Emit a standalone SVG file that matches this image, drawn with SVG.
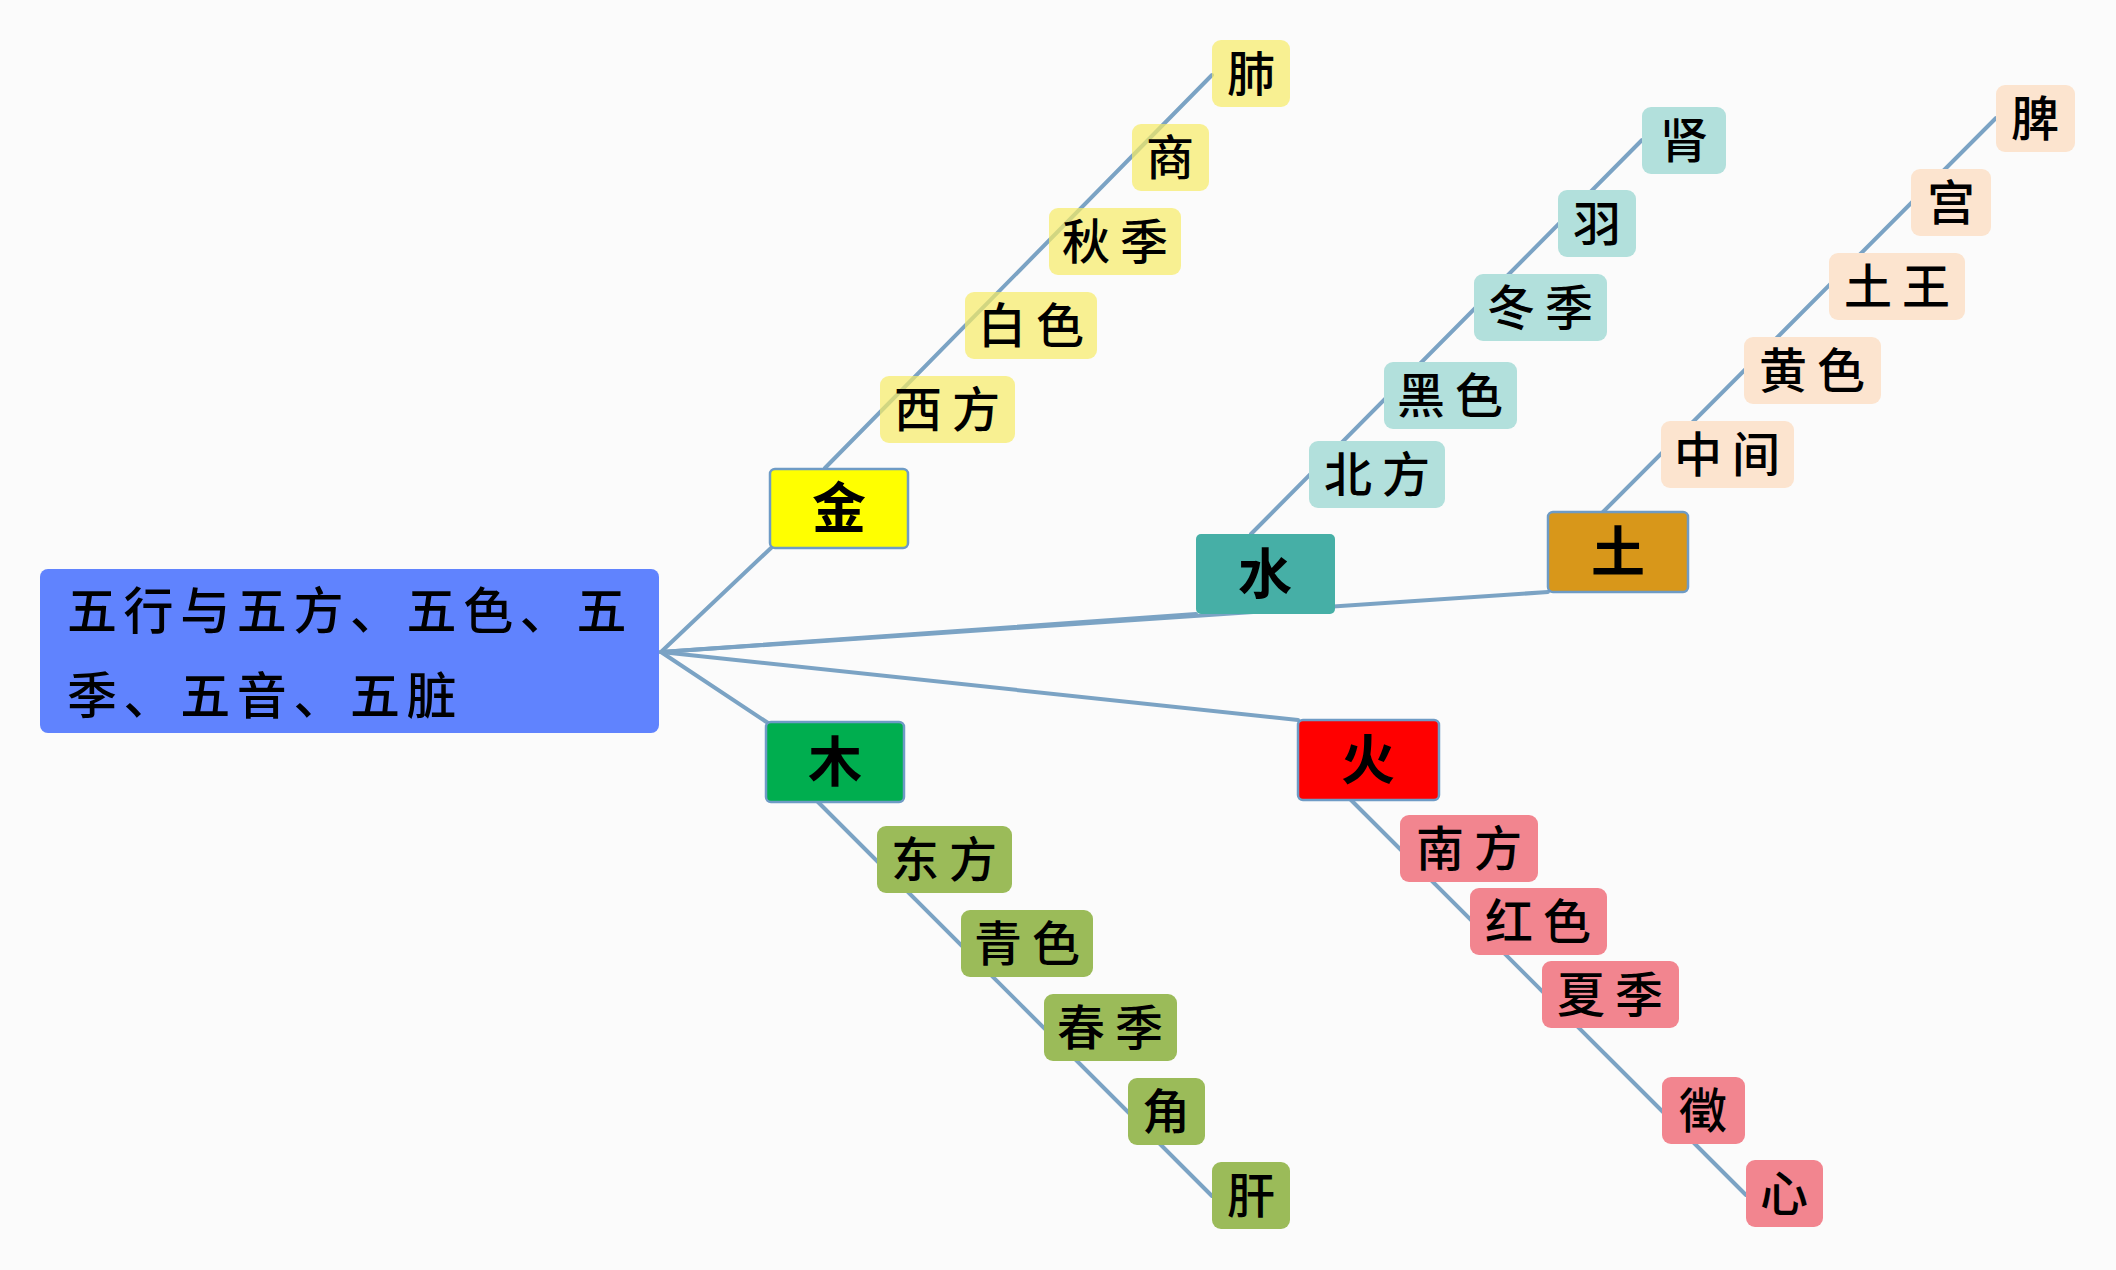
<svg xmlns="http://www.w3.org/2000/svg" width="2116" height="1270" viewBox="0 0 2116 1270">
<style>
.c{stroke:#7BA3C4;stroke-width:4;fill:none;stroke-linecap:round}
text{font-family:"Noto Sans CJK SC","Noto Sans",sans-serif;fill:#000}
.root text{font-size:50px;font-weight:500;letter-spacing:6.6px}
.main text{font-size:54px;font-weight:700;text-anchor:middle}
.mb{stroke:#6E9BC5;stroke-width:2.5}
.leaf text{font-size:48px;font-weight:500;text-anchor:middle}
.leaf text.two{letter-spacing:10px}
.gold rect{fill:#F7EB65;fill-opacity:0.7}
.water rect{fill:#B2E0DC}
.earth rect{fill:#FCE4CF}
.wood rect{fill:#9BBB59}
.fire rect{fill:#F2858F}
</style>
<rect x="0" y="0" width="2116" height="1270" fill="#FBFBFB"/>
<g id="connectors">
<line class="c" x1="661" y1="652" x2="771" y2="548"/>
<line class="c" x1="661" y1="652" x2="768" y2="723"/>
<line class="c" x1="661" y1="652" x2="1196" y2="614"/>
<line class="c" x1="661" y1="652" x2="1548" y2="592"/>
<line class="c" x1="661" y1="652" x2="1298" y2="720"/>
<line class="c" x1="825" y1="468" x2="1212" y2="75"/>
<line class="c" x1="1251" y1="534" x2="1642" y2="140"/>
<line class="c" x1="1603" y1="512" x2="1996" y2="118"/>
<line class="c" x1="818" y1="802" x2="1212" y2="1196"/>
<line class="c" x1="1351" y1="800" x2="1746" y2="1195"/>
</g>
<g id="root" class="root">
<rect x="40" y="569" width="619" height="164" rx="8" fill="#6083FE"/>
<text x="67" y="629">五行与五方、五色、五</text>
<text x="67" y="714">季、五音、五脏</text>
</g>
<g id="n-jin" class="main"><rect class="mb" x="770" y="469" width="138" height="79" rx="5" fill="#FFFF00"/><text x="839" y="528">金</text></g>
<g id="n-shui" class="main"><rect x="1196" y="534" width="139" height="80" rx="5" fill="#46AFA6"/><text x="1265" y="594">水</text></g>
<g id="n-tu" class="main"><rect class="mb" x="1548" y="512" width="140" height="80" rx="5" fill="#D8971A"/><text x="1618" y="572">土</text></g>
<g id="n-mu" class="main"><rect class="mb" x="766" y="722" width="138" height="80" rx="5" fill="#00AE4F"/><text x="835" y="782">木</text></g>
<g id="n-huo" class="main"><rect class="mb" x="1298" y="720" width="141" height="80" rx="5" fill="#FF0000"/><text x="1368" y="780">火</text></g>

<g id="jin-fei" class="leaf gold"><rect x="1212" y="40" width="78" height="67" rx="9"/><text x="1251" y="91">肺</text></g>
<g id="jin-shang" class="leaf gold"><rect x="1132" y="124" width="77" height="67" rx="9"/><text x="1170" y="175">商</text></g>
<g id="jin-qiuji" class="leaf gold"><rect x="1049" y="208" width="132" height="67" rx="9"/><text class="two" x="1120" y="259">秋季</text></g>
<g id="jin-baise" class="leaf gold"><rect x="965" y="292" width="132" height="67" rx="9"/><text class="two" x="1036" y="343">白色</text></g>
<g id="jin-xifang" class="leaf gold"><rect x="880" y="376" width="135" height="67" rx="9"/><text class="two" x="952" y="427">西方</text></g>

<g id="shui-shen" class="leaf water"><rect x="1642" y="107" width="84" height="67" rx="9"/><text x="1684" y="158">肾</text></g>
<g id="shui-yu" class="leaf water"><rect x="1558" y="190" width="78" height="67" rx="9"/><text x="1597" y="241">羽</text></g>
<g id="shui-dongji" class="leaf water"><rect x="1474" y="274" width="133" height="67" rx="9"/><text class="two" x="1545" y="325">冬季</text></g>
<g id="shui-heise" class="leaf water"><rect x="1384" y="362" width="133" height="67" rx="9"/><text class="two" x="1455" y="413">黑色</text></g>
<g id="shui-beifang" class="leaf water"><rect x="1309" y="441" width="136" height="67" rx="9"/><text class="two" x="1382" y="492">北方</text></g>

<g id="tu-pi" class="leaf earth"><rect x="1996" y="85" width="79" height="67" rx="9"/><text x="2035" y="136">脾</text></g>
<g id="tu-gong" class="leaf earth"><rect x="1911" y="169" width="80" height="67" rx="9"/><text x="1951" y="220">宫</text></g>
<g id="tu-tuwang" class="leaf earth"><rect x="1829" y="253" width="136" height="67" rx="9"/><text class="two" x="1902" y="304">土王</text></g>
<g id="tu-huangse" class="leaf earth"><rect x="1744" y="337" width="137" height="67" rx="9"/><text class="two" x="1817" y="388">黄色</text></g>
<g id="tu-zhongjian" class="leaf earth"><rect x="1661" y="421" width="133" height="67" rx="9"/><text class="two" x="1732" y="472">中间</text></g>

<g id="mu-dongfang" class="leaf wood"><rect x="877" y="826" width="135" height="67" rx="9"/><text class="two" x="949" y="877">东方</text></g>
<g id="mu-qingse" class="leaf wood"><rect x="961" y="910" width="132" height="67" rx="9"/><text class="two" x="1032" y="961">青色</text></g>
<g id="mu-chunji" class="leaf wood"><rect x="1044" y="994" width="133" height="67" rx="9"/><text class="two" x="1115" y="1045">春季</text></g>
<g id="mu-jue" class="leaf wood"><rect x="1128" y="1078" width="77" height="67" rx="9"/><text x="1166" y="1129">角</text></g>
<g id="mu-gan" class="leaf wood"><rect x="1212" y="1162" width="78" height="67" rx="9"/><text x="1251" y="1213">肝</text></g>

<g id="huo-nanfang" class="leaf fire"><rect x="1400" y="815" width="138" height="67" rx="9"/><text class="two" x="1474" y="866">南方</text></g>
<g id="huo-hongse" class="leaf fire"><rect x="1470" y="888" width="137" height="67" rx="9"/><text class="two" x="1543" y="939">红色</text></g>
<g id="huo-xiaji" class="leaf fire"><rect x="1542" y="961" width="137" height="67" rx="9"/><text class="two" x="1615" y="1012">夏季</text></g>
<g id="huo-zhi" class="leaf fire"><rect x="1662" y="1077" width="83" height="67" rx="9"/><text x="1703" y="1128">徵</text></g>
<g id="huo-xin" class="leaf fire"><rect x="1746" y="1160" width="77" height="67" rx="9"/><text x="1784" y="1211">心</text></g>
</svg>
